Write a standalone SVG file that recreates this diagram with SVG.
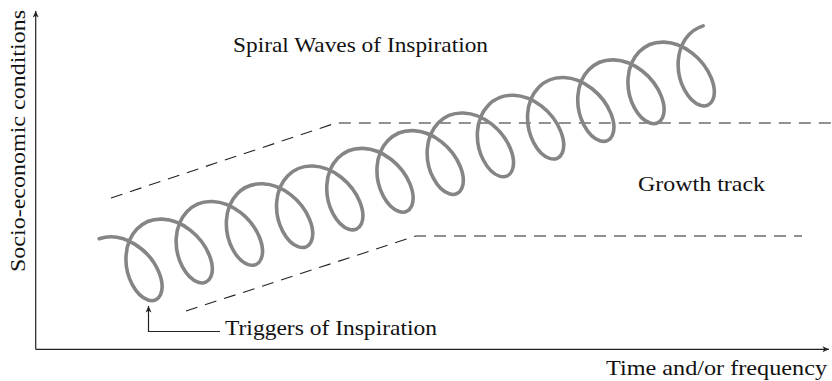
<svg xmlns="http://www.w3.org/2000/svg" width="832" height="381" viewBox="0 0 832 381">
<style>
  .lbl { font-family: "Liberation Serif", "Times New Roman", serif; font-size: 22px; fill: #111; }
  .axis { stroke: #222; stroke-width: 1.2; fill: none; }
  .dash { stroke: #222; stroke-width: 1.1; fill: none; stroke-dasharray: 12 8; }
  .spiral { stroke: #858585; stroke-width: 3.6; fill: none; stroke-linecap: round; stroke-linejoin: round; }
</style>
<defs>
  <marker id="arr" markerUnits="userSpaceOnUse" markerWidth="10" markerHeight="8" viewBox="-7 -4 8 8" refX="0" refY="0" orient="auto">
    <path d="M0,0 L-6.5,-3 L-4.8,0 L-6.5,3 Z" fill="#222"/>
  </marker>
</defs>
<rect width="832" height="381" fill="#fff"/>

<g id="connectors">
  <path id="y-axis" class="axis" d="M35.7,349.3 V11" marker-end="url(#arr)"/>
  <path id="x-axis" class="axis" d="M35.7,349.3 H829" marker-end="url(#arr)"/>
  <path id="trigger-arrow" class="axis" d="M220,331.5 H148.5 V306" marker-end="url(#arr)"/>
</g>

<g id="growth-track">
  <path id="upper-bound" class="dash" d="M111,198 L336,123 H832"/>
  <path id="lower-bound" class="dash" d="M186,311 L416,236 H802"/>
</g>

<g id="spiral">
  <path class="spiral" d="M99.2,238.75 C122.4,230.58 149.53,249.26 158.95,272.43 c7.45,18.33 0.65,31.345 -10.95,27.575
  c-11.6,-3.77 -23.33,-22.99 -21.95,-44.425 c1.375,-21.44 15.62,-37.08 36.05,-36.425 c20.43,0.65 39.6,17.25 47.05,35.575 c7.45,18.33 0.65,31.345 -10.95,27.575
  c-11.6,-3.77 -23.33,-22.99 -21.95,-44.425 c1.375,-21.44 15.62,-37.08 36.05,-36.425 c20.43,0.65 39.6,17.25 47.05,35.575 c7.45,18.33 0.65,31.345 -10.95,27.575
  c-11.6,-3.77 -23.33,-22.99 -21.95,-44.425 c1.375,-21.44 15.62,-37.08 36.05,-36.425 c20.43,0.65 39.6,17.25 47.05,35.575 c7.45,18.33 0.65,31.345 -10.95,27.575
  c-11.6,-3.77 -23.33,-22.99 -21.95,-44.425 c1.375,-21.44 15.62,-37.08 36.05,-36.425 c20.43,0.65 39.6,17.25 47.05,35.575 c7.45,18.33 0.65,31.345 -10.95,27.575
  c-11.6,-3.77 -23.33,-22.99 -21.95,-44.425 c1.375,-21.44 15.62,-37.08 36.05,-36.425 c20.43,0.65 39.6,17.25 47.05,35.575 c7.45,18.33 0.65,31.345 -10.95,27.575
  c-11.6,-3.77 -23.33,-22.99 -21.95,-44.425 c1.375,-21.44 15.62,-37.08 36.05,-36.425 c20.43,0.65 39.6,17.25 47.05,35.575 c7.45,18.33 0.65,31.345 -10.95,27.575
  c-11.6,-3.77 -23.33,-22.99 -21.95,-44.425 c1.375,-21.44 15.62,-37.08 36.05,-36.425 c20.43,0.65 39.6,17.25 47.05,35.575 c7.45,18.33 0.65,31.345 -10.95,27.575
  c-11.6,-3.77 -23.33,-22.99 -21.95,-44.425 c1.375,-21.44 15.62,-37.08 36.05,-36.425 c20.43,0.65 39.6,17.25 47.05,35.575 c7.45,18.33 0.65,31.345 -10.95,27.575
  c-11.6,-3.77 -23.33,-22.99 -21.95,-44.425 c1.375,-21.44 15.62,-37.08 36.05,-36.425 c20.43,0.65 39.6,17.25 47.05,35.575 c7.45,18.33 0.65,31.345 -10.95,27.575
  c-11.6,-3.77 -23.33,-22.99 -21.95,-44.425 c1.375,-21.44 15.62,-37.08 36.05,-36.425 c20.43,0.65 39.6,17.25 47.05,35.575 c7.45,18.33 0.65,31.345 -10.95,27.575
  c-11.6,-3.77 -23.33,-22.99 -21.95,-44.425 c1.375,-21.44 15.62,-37.08 36.05,-36.425 c20.43,0.65 39.6,17.25 47.05,35.575 c7.45,18.33 0.65,31.345 -10.95,27.575
  c-11.6,-3.77 -23.33,-22.99 -21.95,-44.425 c1.08,-16.82 10.18,-30.64 24.85,-35.03"/>
</g>

<g id="label-spiral"><text class="lbl" x="233" y="51.5" textLength="255" lengthAdjust="spacingAndGlyphs">Spiral Waves of Inspiration</text></g>
<g id="label-growth"><text class="lbl" x="638" y="191" textLength="127" lengthAdjust="spacingAndGlyphs">Growth track</text></g>
<g id="label-triggers"><text class="lbl" x="225" y="335" textLength="212" lengthAdjust="spacingAndGlyphs">Triggers of Inspiration</text></g>
<g id="label-x"><text class="lbl" x="606" y="375" textLength="221" lengthAdjust="spacingAndGlyphs">Time and/or frequency</text></g>
<g id="label-y"><text class="lbl" transform="translate(25,272) rotate(-90)" x="0" y="0" textLength="262" lengthAdjust="spacingAndGlyphs">Socio-economic conditions</text></g>
</svg>
